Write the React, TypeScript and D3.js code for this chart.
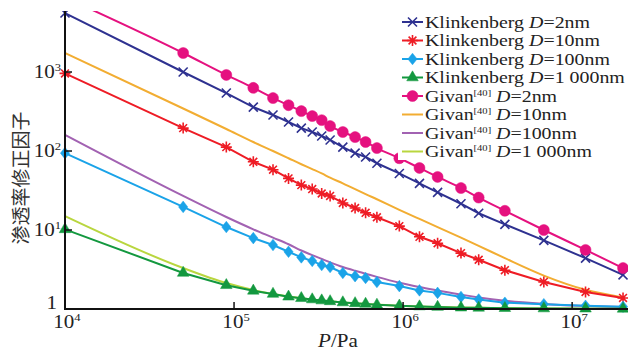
import React from "react";
import * as d3 from "d3";

// pressure (Pa) of every sample
const pressures = [
  1e4, 5e4, 9e4, 1.3e5, 1.7e5, 2.1e5, 2.5e5, 2.9e5, 3.3e5, 3.7e5, 4.4e5, 5.2e5,
  6e5, 7e5, 9.5e5, 1.25e6, 1.6e6, 2.2e6, 2.8e6, 4e6, 6.8e6, 1.2e7, 2e7,
];

const klink2 = [5580, 1000, 542, 360, 286, 233, 195, 174, 155, 138, 112, 94, 84, 70, 52, 39, 30, 21.5, 16.3, 11.8, 7.4, 4.4, 2.7];
const klink10 = [960, 195, 112, 73, 58, 45, 37, 33, 29, 27, 22, 19, 16.5, 14.5, 11.2, 8.2, 6.8, 5.1, 4.2, 3.1, 2.2, 1.64, 1.38];
const klink100 = [94, 19.6, 10.9, 7.9, 6.45, 5.3, 4.5, 4.06, 3.6, 3.4, 2.86, 2.6, 2.47, 2.2, 1.95, 1.72, 1.6, 1.42, 1.32, 1.2, 1.15, 1.1, 1.07];
const klink1000 = [10.2, 2.86, 2.0, 1.7, 1.55, 1.43, 1.37, 1.32, 1.28, 1.25, 1.21, 1.18, 1.16, 1.13, 1.1, 1.075, 1.06, 1.04, 1.035, 1.025, 1.015, 1.01, 1.005];
const givan2 = [8800, 1740, 918, 630, 468, 380, 320, 277, 246, 207, 174, 150, 130, 109, 81, 61, 47, 34, 25.7, 17.5, 10, 5.6, 3.3];
const givan10 = [1740, 345, 190, 130, 100, 81, 68, 59, 52, 46, 39, 33, 28.5, 24.5, 18, 13.8, 10.9, 8.0, 6.3, 4.4, 2.65, 1.75, 1.4];
const givan100 = [160, 27, 14.6, 10.2, 8, 6.6, 5.5, 4.8, 4.3, 3.9, 3.4, 3.05, 2.8, 2.55, 2.15, 1.9, 1.72, 1.52, 1.4, 1.27, 1.16, 1.09, 1.06];
const givan1000 = [15, 3.3, 2.13, 1.74, 1.55, 1.44, 1.37, 1.32, 1.28, 1.25, 1.21, 1.18, 1.16, 1.14, 1.1, 1.08, 1.06, 1.045, 1.035, 1.025, 1.015, 1.01, 1.005];

const xTicks = [1e4, 1e5, 1e6, 1e7];
const yTicks = [1, 10, 100, 1000];

const series = [
  { model: "Klinkenberg", d: "2nm", values: klink2, color: "#2e3190", marker: "x", smooth: false },
  { model: "Klinkenberg", d: "10nm", values: klink10, color: "#ee1c25", marker: "star", smooth: false },
  { model: "Klinkenberg", d: "100nm", values: klink100, color: "#1aa3e8", marker: "diamond", smooth: false },
  { model: "Klinkenberg", d: "1 000nm", values: klink1000, color: "#13983f", marker: "triangle", smooth: false },
  { model: "Givan", d: "2nm", values: givan2, color: "#e5117f", marker: "circle", smooth: true },
  { model: "Givan", d: "10nm", values: givan10, color: "#f2ad32", marker: null, smooth: true },
  { model: "Givan", d: "100nm", values: givan100, color: "#a262b2", marker: null, smooth: true },
  { model: "Givan", d: "1 000nm", values: givan1000, color: "#b9d63f", marker: null, smooth: true },
];

const FONT = "'Liberation Serif', 'Times New Roman', serif";
const SX = 1.17; // the figure is stretched sideways

const xScale = d3.scaleLog().domain([1e4, 2.14e7]).range([65, 628]);
const yScale = d3.scaleLog().domain([1, 5750]).range([309, 12]);

function markerPath(type: string) {
  if (type === "x") return "M-4.5,-4.5L4.5,4.5M-4.5,4.5L4.5,-4.5";
  if (type === "star")
    return "M-5.5,0L5.5,0M0,-5.5L0,5.5M-3.9,-3.9L3.9,3.9M-3.9,3.9L3.9,-3.9";
  if (type === "diamond") return "M0,-5.8L4.6,0L0,5.8L-4.6,0Z";
  if (type === "triangle") return d3.symbol().type(d3.symbolTriangle).size(58)()!;
  return d3.symbol().type(d3.symbolCircle).size(95)()!;
}

function Marker({ type, x, y, color }: { type: string; x: number; y: number; color: string }) {
  const stroked = type === "x" || type === "star";
  return (
    <path
      d={markerPath(type)}
      transform={`translate(${x},${y})`}
      fill={stroked ? "none" : color}
      stroke={color}
      strokeWidth={stroked ? 1.6 : 0.5}
    />
  );
}

function Pow({ x, y, exp, anchor, size }: { x: number; y: number; exp: number; anchor: string; size: number }) {
  return (
    <g transform={`translate(${x},${y}) scale(${SX},1)`}>
      <text textAnchor={anchor} fontFamily={FONT} fontSize={size} fill="#222">
        10<tspan dy={-7} fontSize={size * 0.6}>{exp}</tspan>
      </text>
    </g>
  );
}

export default function App() {
  const lineFor = (smooth: boolean) =>
    d3
      .line<number>()
      .x((_, i) => xScale(pressures[i]))
      .y((v) => yScale(v))
      .curve(smooth ? d3.curveMonotoneX : d3.curveLinear);

  const drawOrder = [5, 6, 7, 0, 1, 2, 3, 4];
  const legendTop = 22;
  const legendStep = 18.5;

  return (
    <svg width={628} height={350} style={{ position: "absolute", left: 0, top: 0, background: "#fff" }}>
      <defs>
        <clipPath id="plot">
          <rect x={55} y={11} width={573} height={306} />
        </clipPath>
      </defs>

      <g clipPath="url(#plot)">
        {drawOrder.map((si) => {
          const s = series[si];
          return (
            <g key={si}>
              <path d={lineFor(s.smooth)(s.values)!} fill="none" stroke={s.color} strokeWidth={2} />
              {s.marker &&
                s.values.map((v, i) => (
                  <Marker key={i} type={s.marker!} x={xScale(pressures[i])} y={yScale(v)} color={s.color} />
                ))}
            </g>
          );
        })}
      </g>

      {/* axes */}
      <line x1={65} x2={628} y1={309} y2={309} stroke="#111" strokeWidth={2} />
      <line x1={65} x2={65} y1={11} y2={310} stroke="#111" strokeWidth={2} />
      {xTicks.slice(1).map((t) => (
        <line key={t} x1={xScale(t)} x2={xScale(t)} y1={309} y2={302} stroke="#111" strokeWidth={1.5} />
      ))}
      {yTicks.slice(1).map((t) => (
        <line key={t} x1={65} x2={72} y1={yScale(t)} y2={yScale(t)} stroke="#111" strokeWidth={1.5} />
      ))}

      {xTicks.map((t, i) => (
        <Pow key={t} x={xScale(t) + 2} y={328} exp={4 + i} anchor="middle" size={18} />
      ))}
      {yTicks.map((t, i) =>
        i === 0 ? (
          <g key={t} transform={`translate(57,${yScale(t)}) scale(${SX},1)`}>
            <text textAnchor="end" fontFamily={FONT} fontSize={18} fill="#222">1</text>
          </g>
        ) : (
          <Pow key={t} x={61} y={yScale(t) + 6} exp={i} anchor="end" size={18} />
        )
      )}

      <g transform={`translate(338,347) scale(${SX},1)`}>
        <text textAnchor="middle" fontFamily={FONT} fontSize={18} fill="#222">
          <tspan fontStyle="italic">P</tspan>/Pa
        </text>
      </g>
      <text
        transform="translate(28,178) rotate(-90)"
        textAnchor="middle"
        fontFamily="'Noto Sans CJK SC', sans-serif"
        fontSize={19}
        fill="#333"
      >
        渗透率修正因子
      </text>

      {/* legend */}
      <rect x={398} y={10} width={230} height={150} fill="#fff" />
      {series.map((s, i) => {
        const y = legendTop + i * legendStep;
        return (
          <g key={i}>
            <line x1={402} x2={423} y1={y} y2={y} stroke={s.color} strokeWidth={2} />
            {s.marker && <Marker type={s.marker} x={412.5} y={y} color={s.color} />}
            <g transform={`translate(425,${y + 5.5}) scale(${SX},1)`}>
              <text fontFamily={FONT} fontSize={17} fill="#222">
                {s.model}
                {s.model === "Givan" && (
                  <tspan dy={-6} fontSize={9}>[40]</tspan>
                )}
                <tspan dy={s.model === "Givan" ? 6 : 0} fontStyle="italic">{" D"}</tspan>
                ={s.d}
              </text>
            </g>
          </g>
        );
      })}
    </svg>
  );
}
